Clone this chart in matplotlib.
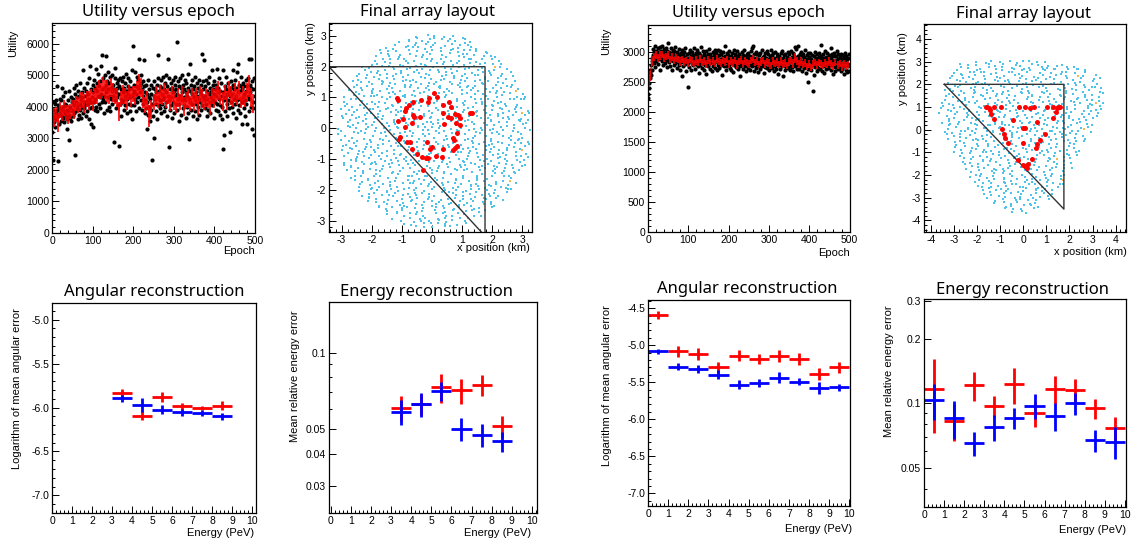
#!/usr/bin/env python3
"""
Array optimisation summary: utility history, final detector layouts and
angular / energy reconstruction quality for two optimisation runs.
"""

import numpy as np
import matplotlib
matplotlib.use('Agg')
import matplotlib.pyplot as plt
from matplotlib.ticker import (MultipleLocator, FixedLocator, FixedFormatter,
                               FormatStrFormatter, NullFormatter)

plt.rcParams['font.family'] = ['Liberation Sans', 'DejaVu Sans']
plt.rcParams['axes.unicode_minus'] = False

W, H = 1138, 545

# ---------------------------------------------------------------------------
# Run A: utility per epoch (one point per epoch) and running mean every 5 epochs
# ---------------------------------------------------------------------------
UTIL_A = [
    3200, 3650, 2300, 3900, 3500, 4150, 3700, 4100, 3350, 3800, 4200, 3600, 3900, 4650, 2280, 3700, 4050, 3450, 3950, 4250, 3800, 3550, 4200, 3900, 4600,
    3700, 4000, 3650, 4350, 3850, 3500, 4100, 3800, 4450, 3700, 4050, 3900, 3300, 3600, 4200, 3850, 4500, 3750, 2940, 4000, 3650, 4300, 3900, 3550, 4150,
    3900, 4250, 3700, 4600, 4050, 3800, 4400, 2480, 4150, 3850, 4700, 3950, 4300, 3600, 4500, 4050, 3750, 4350, 4100, 4750, 3900, 4200, 3650, 4450, 4000,
    4300, 5150, 3800, 4150, 4600, 3950, 4350, 4050, 3700, 4500, 4200, 3850, 4750, 4100, 4400, 3600, 4250, 4900, 3950, 5280, 4150, 3450, 4550, 4000, 4300,
    4700, 3350, 4450, 4150, 4850, 3900, 4600, 4250, 5200, 4000, 4500, 3850, 4750, 4350, 5050, 4100, 4650, 4300, 3950, 4800, 4400, 5300, 4150, 5650, 4550,
    4250, 4900, 3800, 4600, 4350, 5000, 4150, 4700, 5600, 4450, 3900, 4800, 4300, 5100, 4550, 4000, 4750, 4350, 4950, 3850, 4600, 4250, 5000, 4500, 4100,
    4700, 4350, 2890, 4550, 4900, 4200, 5240, 4450, 3950, 4750, 4300, 4600, 4050, 4850, 2760, 4400, 4650, 4100, 4900, 4250, 3700, 4550, 4800, 4150, 4450,
    4950, 4200, 4600, 3900, 4350, 4750, 4050, 4500, 5050, 4250, 3800, 4650, 4400, 4900, 4100, 4550, 3850, 4300, 4800, 4050, 4600, 4350, 5150, 3600, 5920,
    4400, 4700, 4050, 4500, 5100, 4250, 3850, 4650, 4400, 4950, 4150, 4600, 4850, 4300, 3950, 5500, 4700, 4450, 5000, 4200, 4750, 4550, 3900, 4800, 4350,
    4100, 4650, 5470, 3800, 4450, 4200, 4700, 3950, 4400, 3280, 4150, 4850, 3750, 4300, 4550, 4000, 3550, 4250, 4700, 3900, 4400, 2300, 4100, 4600, 3700,
    4350, 4800, 3020, 4250, 4550, 3850, 4450, 4100, 4700, 3600, 4300, 4900, 5630, 4050, 4500, 3950, 4650, 4200, 4850, 3800, 4400, 4100, 4600, 4950, 4250,
    3850, 4550, 4300, 4750, 4000, 4450, 5000, 4150, 3700, 4650, 4350, 5520, 2725, 4900, 4200, 4550, 3900, 4750, 4300, 4050, 4600, 3650, 4450, 4850, 4150,
    4500, 3800, 4350, 4700, 4950, 4100, 4550, 6050, 3900, 4400, 4800, 4250, 3550, 4650, 4100, 4900, 4350, 3750, 4600, 4200, 5000, 4450, 3950, 4700, 4300,
    4050, 4550, 4850, 4200, 3650, 4450, 4750, 4000, 4350, 5050, 3800, 4600, 4250, 2990, 4500, 5360, 4150, 4700, 3900, 4400, 4850, 4100, 4550, 3700, 4300,
    4650, 4200, 4950, 3850, 4450, 4100, 4750, 3600, 4350, 4600, 4000, 4850, 4250, 3750, 4500, 4150, 4700, 3900, 4400, 5680, 4050, 4550, 4300, 4800, 5470,
    4200, 3950, 4650, 4350, 4850, 4100, 3700, 4500, 4250, 4750, 3900, 4400, 4950, 4150, 4600, 3800, 4450, 4300, 5150, 4050, 4550, 4200, 4700, 3650, 4400,
    4800, 4150, 4550, 3900, 4350, 4700, 4100, 5185, 4450, 3850, 4600, 4250, 4900, 4050, 3750, 4500, 4350, 4750, 4000, 3600, 2650, 5150, 4450, 4200, 3090,
    4650, 4300, 3850, 4550, 4950, 4100, 4400, 3700, 4750, 4200, 4500, 4500, 3950, 4350, 3200, 4800, 4150, 4600, 4000, 4400, 4700, 3800, 5150, 4250, 4550,
    4100, 4850, 4350, 3650, 4600, 5100, 4200, 5340, 4450, 3900, 4700, 4050, 4500, 4250, 3800, 4650, 4950, 4150, 3450, 4550, 4300, 4750, 3950, 4400, 4650,
    4200, 3700, 4500, 4850, 4100, 3450, 4650, 4350, 4900, 5520, 4250, 3850, 4700, 4450, 5500, 4000, 4600, 3300, 4800, 4150, 4550, 3950, 3090, 4900, 4350,
]
MEAN_A = [
    3100, 3650, 3750, 3500, 3900, 3800, 3950, 3800, 3750, 3850, 3950, 3900, 4100, 4050, 4150, 4200, 4100, 4250, 4200, 4300,
    4150, 4350, 4400, 4550, 4500, 4650, 4550, 4500, 4400, 4600, 4450, 4350, 4300, 3850, 4250, 4400, 4350, 4200, 4450, 4300,
    4400, 4350, 4550, 4700, 4600, 4250, 4050, 4200, 3700, 3900, 4150, 4350, 4200, 4400, 4300, 4450, 4250, 4350, 4150, 4400,
    4200, 4050, 4300, 4150, 4350, 4000, 4200, 4250, 4100, 4300, 4150, 4350, 4050, 4400, 4250, 4150, 4300, 4200, 4050, 4350,
    4250, 4400, 4500, 4300, 4150, 4450, 4200, 4550, 4350, 4250, 4450, 4300, 4500, 4200, 4350, 4250, 4450, 4650, 4300, 4100,
]
MEAN_A_ERR = [
    350, 300, 250, 300, 250, 250, 250, 250, 300, 250, 250, 300, 250, 250, 300, 250, 300, 250, 300, 250,
    300, 250, 300, 300, 250, 300, 300, 350, 300, 300, 300, 250, 300, 300, 250, 300, 250, 300, 250, 300,
    250, 300, 250, 350, 300, 300, 250, 300, 350, 300, 250, 300, 250, 300, 250, 300, 300, 250, 300, 250,
    300, 250, 300, 250, 300, 300, 250, 300, 250, 300, 300, 250, 300, 250, 300, 250, 300, 250, 300, 250,
    300, 250, 300, 250, 300, 250, 300, 250, 300, 250, 300, 250, 300, 250, 300, 250, 300, 350, 300, 300,
]

# ---------------------------------------------------------------------------
# Run B: utility per epoch and running mean every 5 epochs
# ---------------------------------------------------------------------------
UTIL_B = [
    2230, 2300, 2400, 2480, 2560, 2650, 2700, 2620, 2780, 2850, 2700, 2900, 2950, 3050, 2820, 3000, 2880, 3100, 2750, 2950, 3020, 2850, 2980, 2900, 3060,
    2800, 2950, 3000, 2880, 3080, 2920, 2700, 3020, 2960, 2850, 3100, 2900, 3000, 2780, 2950, 3050, 2880, 2990, 2820, 3070, 2930, 2860, 3010, 2750, 2970,
    3150, 2900, 2830, 3000, 2950, 2760, 3060, 2880, 2990, 2700, 2920, 3040, 2850, 2960, 2780, 3020, 2900, 2820, 3080, 2870, 2950, 2740, 3000, 2890, 2830,
    2960, 2790, 3050, 2870, 2930, 2700, 2990, 2840, 2910, 3030, 2600, 2880, 2950, 2760, 3000, 2850, 2920, 2800, 3070, 2880, 2690, 2960, 2840, 2410, 2900,
    2820, 2980, 2750, 2900, 3030, 2860, 2700, 2940, 2810, 3000, 2870, 2780, 2950, 2840, 3060, 2900, 2720, 2880, 2990, 2800, 2930, 2850, 3040, 2760, 2910,
    2870, 2990, 2650, 2830, 2950, 2780, 3080, 2860, 2920, 2740, 2890, 3010, 2810, 2960, 2700, 2850, 2940, 2780, 3020, 2880, 2640, 2900, 2830, 2970, 2760,
    2930, 2800, 3050, 2870, 2720, 2960, 2840, 2910, 2680, 2890, 3000, 2770, 2860, 2950, 2810, 3030, 2740, 2900, 2850, 2990, 2700, 2880, 2940, 2790, 3040,
    2820, 2950, 2730, 2890, 3010, 2850, 2780, 2960, 2880, 2620, 2920, 2810, 3000, 2870, 2760, 2940, 3100, 2840, 2700, 2910, 2830, 2980, 2770, 2890, 2950,
    2790, 2880, 3020, 2740, 2860, 2930, 2700, 2850, 2990, 2810, 2900, 2660, 2870, 3040, 2780, 2920, 2830, 2960, 2750, 2890, 2800, 3010, 2860, 2720, 2940,
    2830, 2970, 2760, 2880, 2600, 2910, 2820, 3000, 2780, 2860, 2950, 2710, 2900, 2840, 3030, 2770, 2880, 2690, 2930, 2810, 2960, 2850, 2740, 2900, 2990,
    2780, 2870, 2940, 2700, 2850, 3020, 2800, 2910, 2760, 3060, 3100, 2830, 2680, 2890, 2960, 2790, 2870, 3000, 2740, 2900, 2820, 2970, 2660, 2880, 2810,
    2950, 2770, 2860, 2990, 2720, 2890, 2830, 3030, 2760, 2920, 2800, 2870, 2650, 2940, 2840, 2980, 2750, 2900, 2810, 2870, 3010, 2730, 2850, 2960, 2790,
    2880, 2700, 2930, 2820, 3040, 2770, 2860, 2950, 2740, 2890, 2810, 2980, 2680, 2900, 2830, 2760, 3000, 2850, 2720, 2920, 2800, 2960, 2870, 2640, 2910,
    2790, 2940, 2850, 2710, 2990, 2820, 2880, 2760, 3020, 2840, 2600, 2900, 2780, 2950, 2830, 2700, 2970, 2860, 2750, 2910, 2810, 3000, 2730, 2880, 2840,
    2960, 2770, 2890, 2700, 3010, 2830, 2920, 2750, 2870, 2980, 2690, 2850, 2940, 2800, 3080, 2760, 2900, 2830, 3050, 2720, 2880, 3100, 2790, 2940, 2850,
    2710, 2970, 2820, 2880, 2760, 3000, 2840, 2690, 2930, 2800, 2960, 2870, 2740, 2910, 2820, 3040, 2780, 2890, 2650, 2950, 2830, 2720, 2980, 2500, 2860,
    2920, 2760, 2850, 2990, 2700, 2880, 2810, 2950, 2350, 2840, 2780, 2930, 2620, 2870, 3000, 2750, 2900, 2820, 2680, 2960, 2790, 2870, 2740, 2910, 2830,
    2980, 2720, 2860, 3110, 2800, 2940, 2690, 2880, 2830, 2970, 2760, 2900, 2650, 2850, 3020, 2780, 2920, 2710, 2870, 2990, 2800, 2840, 2730, 2950, 2860,
    2770, 2910, 2820, 3070, 2700, 2880, 2960, 2790, 2850, 2640, 2930, 2810, 2990, 2750, 2870, 2690, 2940, 2830, 3010, 2760, 2890, 2720, 2960, 2800, 2850,
    2740, 2920, 2830, 2680, 2970, 2790, 2880, 2710, 2950, 2820, 2630, 2900, 2770, 2860, 2990, 2700, 2840, 2930, 2660, 2880, 2800, 2760, 2900, 2690, 2960,
]
MEAN_B = [
    2300, 2600, 2850, 2920, 2950, 2900, 2940, 2960, 2900, 2930, 2950, 2880, 2920, 2860, 2900, 2870, 2840, 2880, 2830, 2860,
    2820, 2870, 2840, 2810, 2860, 2830, 2880, 2820, 2850, 2800, 2870, 2830, 2850, 2810, 2880, 2840, 2820, 2860, 2830, 2870,
    2800, 2850, 2820, 2860, 2790, 2840, 2870, 2810, 2850, 2830, 2800, 2860, 2880, 2820, 2850, 2790, 2830, 2860, 2800, 2840,
    2820, 2780, 2850, 2810, 2830, 2790, 2840, 2800, 2820, 2780, 2830, 2860, 2810, 2900, 2850, 2800, 2840, 2790, 2820, 2760,
    2800, 2740, 2790, 2820, 2780, 2830, 2800, 2770, 2820, 2790, 2840, 2800, 2770, 2820, 2780, 2810, 2760, 2800, 2770, 2790,
]
MEAN_B_ERR = [
    90, 90, 80, 70, 70, 60, 70, 60, 70, 60, 70, 60, 70, 60, 70, 60, 70, 60, 70, 60,
    70, 60, 70, 60, 70, 60, 70, 60, 70, 60, 70, 60, 70, 60, 70, 60, 70, 60, 70, 60,
    70, 60, 70, 60, 70, 60, 70, 60, 70, 60, 70, 60, 70, 60, 70, 60, 70, 60, 70, 60,
    70, 60, 70, 60, 70, 60, 70, 60, 70, 60, 70, 60, 70, 80, 70, 60, 70, 60, 70, 60,
    70, 60, 70, 60, 70, 60, 70, 60, 70, 60, 70, 60, 70, 60, 70, 60, 70, 60, 70, 60,
]
MEAN_STEP = 5

# ---------------------------------------------------------------------------
# Final layouts: selected stations (km) and candidate positions
# ---------------------------------------------------------------------------
SEL_A_X = [-1.15, -1.12, -0.75, -0.86, -0.89, -0.62, -0.35, -0.09, 0.07, 0.15, -0.12, 0.38, 0.58, 0.62,
           0.38, 0.54, 0.62, 0.76, 0.87, 0.93, 0.80, 0.93, 0.40, 0.84, 1.26, 1.34, -0.62, -0.60, -0.40,
           -0.66, -0.97, -1.12, -0.91, -1.06, -1.10, -0.84, -0.73, -0.66, -0.18, -0.01, -0.07, 0.35,
           0.71, 0.73, 0.76, 0.82, 0.71, -0.49, -0.34, -0.20, -0.12, 0.13, 0.32, -0.29]
SEL_A_Y = [0.99, 0.92, 0.74, 0.65, 0.56, 0.86, 0.92, 0.97, 1.13, 1.02, 0.86, 0.76, 0.86, 0.70,
           0.49, 0.36, 0.32, 0.46, 0.43, 0.32, 0.16, 0.11, 0.14, -0.14, 0.51, 0.49, 0.43, 0.38, 0.36,
           0.18, 0.29, 0.22, 0.05, -0.29, -0.36, -0.45, -0.45, -0.67, -0.43, -0.61, -0.67, -0.68,
           -0.32, -0.38, -0.65, -0.59, -0.70, -0.83, -0.94, -0.97, -0.97, -0.90, -0.94, -1.35]
SEL_B_X = [-1.56, -1.49, -1.42, -1.63, -1.26, -0.95, -1.39, -1.27, -0.46, -0.19, 0.07, 0.29, 0.48, 1.04,
           1.30, 1.52, 1.59, 1.47, 1.42, 1.29, 0.58, 0.00, 0.07, -0.94, -0.85, -0.77, -0.68, -0.03,
           0.94, 0.72, 0.61, 0.53, 0.36, -0.22, 0.19, -0.03, 0.07, 0.14]
SEL_B_Y = [0.98, 0.95, 0.87, 0.98, 0.98, 0.98, 0.68, 0.48, 0.43, 0.99, 0.98, 0.95, 0.98, 0.99,
           0.99, 0.99, 1.02, 0.95, 0.77, 0.51, 0.33, 0.08, 0.08, 0.02, -0.19, -0.38, -0.57, -0.57,
           -0.21, -0.45, -0.63, -0.80, -1.29, -1.33, -1.52, -1.54, -1.62, -1.70]

# boundary of the allowed region (km)
BOUND_X = [-3.42, 1.76, 1.76, -3.42]
BOUND_Y = [2.0, 2.0, -3.5, 2.0]

# candidate positions, row by row from the top: (first column, row mask).
# digit = candidate, its value gives the spot inside the cell (keypad order 1..9),
# 'o' = flagged candidate
GRID_A_STEP = 0.1
GRID_A_ORIGIN = (-3.3, 3.0)
GRID_A = [
    (28, "7   1 4  8" "  5"),
    (24, " 9  2   6 " "1 6  5   3" "5"),
    (22, "5  3  7 1 " "4 8   3  1" "  8 4"),
    (20, " 4   8 6  " " 2 6   9  " "1 6  5   "),
    (18, "4 8   3  1" "3  7 1  5 " "  8 4   2 " "7  "),
    (16, "1 6  5   3" "  5  9 2  " "5  3  7 1 " "1 4  8 "),
    (15, " 2 6   9  " " 4   8 6  " " 9  2   6 " "4 8   3  "),
    (14, "3  7 1  5 " "7   1 4  8" "  8 4   2 " "4 8   3  1" "5"),
    (12, "  5  9 2  " "1 6  5   3" " 4   8 6  " "5  3  7 1 " " 2 6 "),
    (11, "  8 4   2 " " 9  2   6 " "7   1 4  8" "3  7 1  5 " "1 6  5 "),
    (10, "4 8   3  1" "5  3  7 1 " " 2 6   9  " "  5  9 2  " "7   o 4  "),
    (10, " 4   8 6  " "3  7 1  5 " "1 6  5   3" " 9  2   6 " "  8 4   2"),
    (9, "7   1 4  8" "  8 4   2 " "4 8   3  1" " 4   8 6  " " 2 6   9  " "3"),
    (8, "5  3  7 1 " "  5  9 2  " " 9  2   6 " "1 6  5   3" "3  7 1  5 " "  5"),
    (7, " 9  2   6 " " 2 6   9  " "7   1 4  8" "5  3  7 1 " "  8 4   2 " " 4   "),
    (7, "1 6  5   3" "4 8   3  1" " 4   8 6  " "  5  9 2  " "3  7 1  5 " "7   1"),
    (6, "  5  9 2  " "3  7 1  5 " "5  3  7 1 " "7   1 4  8" " 9  2   6 " "  8 4  "),
    (6, " 2 6   9  " "  8 4   2 " "1 6  5   3" "4 8   3  1" " 4   8 6  " "5  3  7"),
    (5, "3  7 1  5 " " 4   8 6  " "  5  9 2  " "  8 4   2 " " 2 6   9  " "4 8   o  "),
    (5, "  8 4   2 " "7   1 4  8" " 9  2   6 " "3  7 1  5 " "1 6  5   3" " 9  2   6"),
    (4, "4 8   3  1" "1 6  5   3" "5  3  7 1 " " 2 6   9  " "  5  9 2  " " 4   8 6  " "5"),
    (4, "7   1 4  8" " 9  2   6 " "  8 4   2 " " 4   8 6  " "5  3  7 1 " "4 8   3  1" "1"),
    (4, " 4   8 6  " "5  3  7 1 " "3  7 1  5 " "1 6  5   3" "7   1 4  8" " 2 6   9  " " "),
    (3, " 2 6   9  " "  5  9 2  " "4 8   3  1" " 9  2   6 " "  8 4   2 " "3  7 1  5 " "7  "),
    (3, "1 6  5   3" "3  7 1  5 " "7   1 4  8" "  5  9 2  " " 4   8 6  " "5  3  7 1 " "  8"),
    (3, " 9  2   6 " "4 8   3  1" " 2 6   9  " "5  3  7 1 " "3  7 1  5 " "  8 4   2 " "o 6"),
    (3, "5  3  7 1 " "  8 4   2 " " 4   8 6  " "7   1 4  8" "1 6  5   3" "  5  9 2  " " 2 "),
    (3, "3  7 1  5 " " 2 6   9  " "1 6  5   3" "  8 4   2 " "4 8   3  1" "7   1 4  8" "4 8"),
    (3, "  5  9 2  " " 4   8 6  " " 9  2   6 " "4 8   3  1" " 2 6   9  " "1 6  5   3" " 9 "),
    (3, "  8 4   2 " "5  3  7 1 " "  5  9 2  " "3  7 1  5 " " 9  2   6 " " 4   8 6  " "3  "),
    (2, "7   1 4  8" "1 6  5   3" "4 8   3  1" " 2 6   9  " " 4   8 6  " " 9  2   6 " "  5  "),
    (2, " 4   8 6  " "  5  9 2  " "  8 4   2 " "1 6  5   3" "5  3  7 1 " "3  7 1  5 " "7   1"),
    (2, "4 8   3  1" " 9  2   6 " "3  7 1  5 " "5  3  7 1 " "  5  9 2  " " 2 6   9  " " 4   "),
    (3, " 2 6   9  " "3  7 1  5 " "5  3  7 1 " " 4   8 6  " "  8 4   2 " "7   1 4  8" "5  "),
    (3, "1 6  5   3" "7   1 4  8" " 4   8 6  " " 9  2   6 " " 2 6   9  " "4 8   3  1" "  8"),
    (3, " 9  2   6 " "  8 4   2 " " 2 6   9  " "  5  9 2  " "7   1 4  8" "5  3  7 1 " "1 6"),
    (3, "3  7 1  5 " "4 8   3  1" "1 6  5   3" "7   1 4  8" "  8 4   2 " " 4   8 6  " " 2 "),
    (3, "5  3  7 1 " " 4   8 6  " "  5  9 2  " " 2 6   9  " "3  7 1  5 " "1 6  5   3" "o  "),
    (3, "  5  9 2  " " 2 6   9  " "7   1 4  8" "4 8   3  1" "1 6  5   3" "  8 4   2 " " 9 "),
    (3, " 4   8 6  " "1 6  5   3" " 9  2   6 " "  8 4   2 " "  5  9 2  " "3  7 1  5 " "4 8"),
    (4, "  8 4   2 " "  5  9 2  " "4 8   3  1" "3  7 1  5 " " 4   8 6  " " 2 6   9  " "7"),
    (4, "7   1 4  8" "5  3  7 1 " "3  7 1  5 " "1 6  5   3" "4 8   3  1" " 9  2   6 " " "),
    (4, "4 8   3  1" "3  7 1  5 " " 2 6   9  " " 9  2   6 " "5  3  7 1 " "7   1 4  8" "5"),
    (5, " 2 6   9  " " 9  2   6 " " 4   8 6  " "5  3  7 1 " "7   1 4  8" "1 6  5   "),
    (5, "1 6  5   3" " 4   8 6  " "  8 4   2 " "4 8   3  1" " 9  2   6 " "  5  9 2 "),
    (6, " 9  2   6 " "7   1 4  8" "  5  9 2  " " 2 6   9  " "  8 4   2 " "3  7 1 "),
    (6, "5  3  7 1 " "1 6  5   3" "3  7 1  5 " " 4   8 6  " "  5  9 2  " " 2 6   "),
    (7, "3  7 1  5 " "  8 4   2 " "5  3  7 1 " " 9  2   6 " " 2 6   9  " "4 o  "),
    (7, "  5  9 2  " "4 8   3  1" "1 6  5   3" "7   1 4  8" " 4   8 6  " " 9  2"),
    (8, " 4   8 6  " " 2 6   9  " "7   1 4  8" "  8 4   2 " "3  7 1  5 " "7  "),
    (9, "7   1 4  8" "3  7 1  5 " " 9  2   6 " "  5  9 2  " "1 6  5   3" "3"),
    (10, "  8 4   2 " " 4   8 6  " "4 8   3  1" "5  3  7 1 " "  8 4   2"),
    (10, "4 8   3  1" "5  3  7 1 " "  8 4   2 " " 2 6   9  " "1 6  5   "),
    (11, " 2 6   9  " "  5  9 2  " " 4   8 6  " "1 6  5   3" "5  3  7"),
    (12, "1 6  5   3" " 9  2   6 " " 2 6   9  " "3  7 1  5 " " 4   "),
    (14, " 9  2   6 " "7   1 4  8" "3  7 1  5 " "4 8   3  1" "7"),
    (15, "3  7 1  5 " "1 6  5   3" "  5  9 2  " "  8 4   2"),
    (16, "  5  9 2  " "  8 4   2 " " 9  2   6 " "3  7 1 "),
    (18, "5  3  7 1 " "4 8   3  1" "7   1 4  8" " 9 "),
    (20, "7   1 4  8" " 4   8 6  " "1 6  5   "),
    (22, " 4   8 6  " "5  3  7 1 " "  5  "),
    (24, "4 8   3  1" " 2 6   9  " "3"),
    (28, "1 6  5   3" " 2 "),
]
GRID_B_STEP = 0.13
GRID_B_ORIGIN = (-3.6, 3.0)
GRID_B = [
    (10, "  5  9 2  " "5  3  7 1 " "1 6  5"),
    (7, "1 6  5   3" " 9  2   6 " "7   1 4  8" "  8 4 "),
    (6, " 2 6   9  " "3  7 1  5 " "  8 4   2 " "4 8   3  1" "7"),
    (5, " 4   8 6  " "7   1 4  8" "1 6  5   3" "5  3  7 1 " " 2 6"),
    (5, "4 8   3  1" "  8 4   2 " " 9  2   6 " "  5  9 2  " "5  3  "),
    (4, "5  3  7 1 " " 4   8 6  " " 2 6   9  " "3  7 1  5 " "  o 4   2"),
    (3, "3  7 1  5 " "  5  9 2  " "7   1 4  8" "1 6  5   3" " 9  2   6 " "3"),
    (3, "7   1 4  8" "4 8   3  1" "5  3  7 1 " " 4   8 6  " "  8 4   2 " " "),
    (3, "  8 4   2 " " 2 6   9  " "3  7 1  5 " " 9  2   6 " "1 6  5   3" "  "),
    (2, " 9  2   6 " "1 6  5   3" "  5  9 2  " " 2 6   9  " "4 8   3  1" "1 4"),
    (2, "1 6  5   3" "7   1 4  8" " 4   8 6  " "  8 4   2 " "5  3  7 1 " " 9 "),
    (1, "  5  9 2  " "3  7 1  5 " "4 8   3  1" "7   1 4  8" " 2 6   9  " "7  3"),
    (1, " 2 6   9  " "5  3  7 1 " " 9  2   6 " "1 6  5   3" " 4   8 6  " "  5 "),
    (1, " 4   8 6  " " 9  2   6 " "  8 4   2 " "  5  9 2  " "3  7 1  5 " "4 8 "),
    (1, "4 8   3  1" " 4   8 6  " "1 6  5   3" "5  3  7 1 " "7   1 4  8" " o 6"),
    (1, "5  3  7 1 " "  8 4   2 " " 2 6   9  " "4 8   3  1" " 9  2   6 " "1 6 "),
    (0, "3  7 1  5 " "7   1 4  8" "  5  9 2  " " 4   8 6  " "1 6  5   3" "  8 4"),
    (0, "7   1 4  8" "1 6  5   3" "5  3  7 1 " "3  7 1  5 " "  8 4   2 " "3  7"),
    (1, " 9  2   6 " "  5  9 2  " " 4   8 6  " " 2 6   9  " "4 8   3  1" " 9 "),
    (1, "  8 4   2 " "4 8   3  1" "3  7 1  5 " "1 6  5   3" "  5  9 2  " "5 "),
    (1, "  5  9 2  " " 2 6   9  " "7   1 4  8" " 9  2   6 " "5  3  7 1 " "  "),
    (1, "1 6  5   3" " 4   8 6  " "4 8   3  1" "  8 4   2 " "3  7 1  5 " "7"),
    (2, " 2 6   9  " "3  7 1  5 " "1 6  5   3" "7   1 4  8" " 4   8 6  "),
    (2, " 4   8 6  " "5  3  7 1 " " 9  2   6 " "  5  9 2  " "4 8   o  "),
    (2, "4 8   3  1" "7   1 4  8" "  8 4   2 " "3  7 1  5 " " 9  2   6"),
    (2, "3  7 1  5 " "  8 4   2 " "  5  9 2  " "4 8   3  1" "5  3  7 "),
    (3, "7   1 4  8" " 9  2   6 " " 2 6   9  " "5  3  7 1 " "  5  9 "),
    (3, "  8 4   2 " "1 6  5   3" " 4   8 6  " " 9  2   6 " "1 6  5"),
    (4, " 9  2   6 " "  5  9 2  " "5  3  7 1 " "1 6  5   3" " 4   "),
    (5, "5  3  7 1 " " 2 6   9  " "3  7 1  5 " "  8 4   2 " "7  "),
    (5, "  5  9 2  " "4 8   3  1" "7   1 4  8" " 4   8 6  " " 9 "),
    (5, "1 6  5   3" "3  7 1  5 " " 9  2   6 " " 2 6   9  " "3 "),
    (6, " 4   8 6  " "7   1 4  8" "4 8   3  1" "  5  9 2  " "1"),
    (7, " 2 6   9  " "5  3  7 1 " "1 6  5   3" "4 o   3  "),
    (8, "4 8   3  1" " 4   8 6  " "  8 4   2 " "5  3  7 "),
    (8, "3  7 1  5 " "  5  9 2  " " 2 6   9  " " 2 6   "),
    (9, "7   1 4  8" "  8 4   2 " " 9  2   6 " "1 6  5"),
    (9, " 9  2   6 " "1 6  5   3" "5  3  7 1 " "  5  "),
    (10, "  8 4   2 " " 2 6   9  " " 4   8 6  " " 9 "),
    (10, "5  3  7 1 " " 9  2   6 " "  5  9 2  " "3  "),
    (11, "  5  9 2  " "3  7 1  5 " "1 6  5   3" "o"),
    (12, "1 6  5   3" "4 8   3  1" "7   1 4  8"),
    (12, " 4   8 6  " "5  3  7 1 " "  8 4   2"),
    (13, " 2 6   9  " "7   1 4  8" "4 8   3"),
    (14, "3  7 1  5 " "  8 4   2 " "5  3 "),
    (15, "4 8   3  1" "  5  9 2  " "1 6"),
    (16, "7   1 4  8" " 4   8 6  " "2"),
    (17, " 9  2   6 " "1 6  5   3"),
    (18, "5  3  7 1 " "  8 4   "),
    (20, "  8 4   2 " "3  7"),
    (22, "1 6  5   3"),
    (24, "5  3 7"),
]

# ---------------------------------------------------------------------------
# Reconstruction quality per 1 PeV energy bin (red / blue reconstructions)
# ---------------------------------------------------------------------------
E_BIN_HALF = 0.5
E_A = [3.5, 4.5, 5.5, 6.5, 7.5, 8.5]
ANG_A_RED = [-5.835, -6.093, -5.877, -5.987, -6.006, -5.980]
ANG_A_RED_ERR = [0.05, 0.05, 0.057, 0.04, 0.02, 0.05]
ANG_A_BLUE = [-5.892, -5.968, -6.025, -6.051, -6.063, -6.100]
ANG_A_BLUE_ERR = [0.04, 0.08, 0.05, 0.04, 0.03, 0.04]
EN_A_RED = [0.0604, 0.0627, 0.0731, 0.0710, 0.0746, 0.0512]
EN_A_RED_ERR = [0.0068, 0.006, 0.0096, 0.008, 0.0072, 0.005]
EN_A_BLUE = [0.0586, 0.0627, 0.0703, 0.0501, 0.0475, 0.0448]
EN_A_BLUE_ERR = [0.0067, 0.0068, 0.006, 0.0052, 0.0048, 0.004]

E_B = [0.5, 1.5, 2.5, 3.5, 4.5, 5.5, 6.5, 7.5, 8.5, 9.5]
ANG_B_RED = [-4.59, -5.085, -5.12, -5.30, -5.14, -5.19, -5.14, -5.19, -5.387, -5.30]
ANG_B_RED_ERR = [0.05, 0.08, 0.08, 0.07, 0.07, 0.07, 0.08, 0.08, 0.08, 0.08]
ANG_B_BLUE = [-5.085, -5.29, -5.32, -5.40, -5.536, -5.51, -5.437, -5.49, -5.58, -5.57]
ANG_B_BLUE_ERR = [0.04, 0.05, 0.05, 0.06, 0.06, 0.06, 0.07, 0.05, 0.08, 0.05]
EN_B_RED = [0.1167, 0.0829, 0.122, 0.0975, 0.1227, 0.0898, 0.1167, 0.1155, 0.0948, 0.0764]
EN_B_RED_ERR = [0.044, 0.016, 0.019, 0.011, 0.023, 0.012, 0.017, 0.014, 0.010, 0.010]
EN_B_BLUE = [0.1036, 0.0851, 0.0650, 0.0773, 0.0857, 0.0972, 0.0876, 0.1000, 0.0674, 0.0662]
EN_B_BLUE_ERR = [0.020, 0.017, 0.0085, 0.0108, 0.010, 0.013, 0.013, 0.012, 0.008, 0.011]

CYAN = '#4cc4ea'
ORANGE = '#f2b84b'

fig = plt.figure(figsize=(W / 100, H / 100), dpi=100)


def panel(left, right, top, bottom):
    """Axes placed by pixel edges of the frame."""
    ax = fig.add_axes([left / W, 1 - bottom / H, (right - left) / W, (bottom - top) / H])
    ax.tick_params(which='both', direction='in', top=False, right=False,
                   labelsize=7.5, pad=2, width=0.7)
    ax.tick_params(which='major', length=5)
    ax.tick_params(which='minor', length=2.5)
    for s in ax.spines.values():
        s.set_linewidth(0.9)
    return ax


def labels(title, tx, ty, xlab, xr, xy, ylab, yx, yt):
    """Title and axis titles placed in pixel coordinates"""
    fig.text(tx / W, 1 - ty / H, title, ha='center', va='center',
             fontsize=12, family=['Noto Sans', 'DejaVu Sans'])
    fig.text(xr / W, 1 - xy / H, xlab, ha='right', va='center', fontsize=8)
    fig.text(yx / W, 1 - yt / H, ylab, ha='center', va='top', rotation=90, fontsize=8)


def utility_panel(ax, values, means, errs, ylim, ymajor, yminor, xmax):
    epochs = np.arange(len(values))
    ax.plot(epochs, values, 'o', color='black', ms=3, mew=0)
    mean_epochs = np.arange(len(means)) * MEAN_STEP
    ax.errorbar(mean_epochs, means, yerr=errs, fmt='-', color='red', lw=0.6,
                elinewidth=1.2, capsize=0)
    ax.set_xlim(0, xmax)
    ax.set_ylim(*ylim)
    ax.xaxis.set_major_locator(MultipleLocator(100))
    ax.xaxis.set_minor_locator(MultipleLocator(20))
    ax.yaxis.set_major_locator(MultipleLocator(ymajor))
    ax.yaxis.set_minor_locator(MultipleLocator(yminor))


def grid_points(grid, origin, step):
    """Unpack the row masks into candidate coordinates"""
    x0, y0 = origin
    shift = 0.35 * step
    cyan_x, cyan_y, flag_x, flag_y = [], [], [], []
    for r, (first, mask) in enumerate(grid):
        for c, ch in enumerate(mask):
            x = x0 + (first + c) * step
            y = y0 - r * step
            if ch.isdigit():
                k = int(ch) - 1
                cyan_x.append(x + (k % 3 - 1) * shift)
                cyan_y.append(y + (1 - k // 3) * shift)
            elif ch == 'o':
                flag_x.append(x)
                flag_y.append(y)
    return cyan_x, cyan_y, flag_x, flag_y


def layout_panel(ax, grid, origin, step, sel_x, sel_y, xlim, ylim):
    cx, cy, ox, oy = grid_points(grid, origin, step)
    ax.plot(cx, cy, 's', color=CYAN, ms=1.5, mew=0)
    ax.plot(ox, oy, 's', color=ORANGE, ms=1.5, mew=0)
    ax.plot(BOUND_X, BOUND_Y, color='#333333', lw=1.0)
    ax.plot(sel_x, sel_y, 'o', color='red', ms=3.6, mew=0)
    ax.set_xlim(*xlim)
    ax.set_ylim(*ylim)
    ax.xaxis.set_major_locator(MultipleLocator(1))
    ax.xaxis.set_minor_locator(MultipleLocator(0.2))
    ax.yaxis.set_major_locator(MultipleLocator(1))
    ax.yaxis.set_minor_locator(MultipleLocator(0.2))


def reco_points(ax, centres, red, red_err, blue, blue_err, xlim):
    ax.errorbar(centres, red, xerr=E_BIN_HALF, yerr=red_err, fmt='none',
                ecolor='red', elinewidth=2.0, capsize=0)
    ax.errorbar(centres, blue, xerr=E_BIN_HALF, yerr=blue_err, fmt='none',
                ecolor='blue', elinewidth=2.0, capsize=0)
    ax.set_xlim(*xlim)
    ax.xaxis.set_major_locator(MultipleLocator(1))
    ax.xaxis.set_minor_locator(MultipleLocator(0.2))


def log_axis(ax, ylim, major, major_labels, minor):
    ax.set_yscale('log')
    ax.set_ylim(*ylim)
    ax.yaxis.set_major_locator(FixedLocator(major))
    ax.yaxis.set_major_formatter(FixedFormatter(major_labels))
    ax.yaxis.set_minor_locator(FixedLocator(minor))
    ax.yaxis.set_minor_formatter(NullFormatter())


# --- top row: utility and layouts ---
ax1 = panel(52, 255, 23, 233)
utility_panel(ax1, UTIL_A, MEAN_A, MEAN_A_ERR, (0, 6650), 1000, 200, 500)
labels('Utility versus epoch', 159, 12, 'Epoch', 255, 251, 'Utility', 13, 30)

ax2 = panel(329, 532, 23, 232)
layout_panel(ax2, GRID_A, GRID_A_ORIGIN, GRID_A_STEP, SEL_A_X, SEL_A_Y,
             (-3.42, 3.32), (-3.37, 3.42))
labels('Final array layout', 427, 12, 'x position (km)', 530, 248, 'y position (km)', 311, 22)

ax3 = panel(648, 850, 25, 232)
utility_panel(ax3, UTIL_B, MEAN_B, MEAN_B_ERR, (0, 3450), 500, 100, 501)
labels('Utility versus epoch', 748, 13, 'Epoch', 850, 253, 'Utility', 606, 28)

ax4 = panel(924, 1126, 24, 232)
layout_panel(ax4, GRID_B, GRID_B_ORIGIN, GRID_B_STEP, SEL_B_X, SEL_B_Y,
             (-4.3, 4.45), (-4.51, 4.66))
labels('Final array layout', 1023, 14, 'x position (km)', 1127, 252, 'y position (km)', 903, 32)

# --- bottom row: reconstruction quality ---
ax5 = panel(52, 256, 303, 513)
reco_points(ax5, E_A, ANG_A_RED, ANG_A_RED_ERR, ANG_A_BLUE, ANG_A_BLUE_ERR, (0, 10.2))
ax5.set_ylim(-7.2, -4.81)
ax5.yaxis.set_major_locator(MultipleLocator(0.5))
ax5.yaxis.set_minor_locator(MultipleLocator(0.1))
ax5.yaxis.set_major_formatter(FormatStrFormatter('%.1f'))
labels('Angular reconstruction', 154, 292, 'Energy (PeV)', 254, 533,
       'Logarithm of mean angular error', 17, 308)

ax6 = panel(329, 537, 302, 513)
reco_points(ax6, E_A, EN_A_RED, EN_A_RED_ERR, EN_A_BLUE, EN_A_BLUE_ERR, (-0.08, 10.25))
log_axis(ax6, (0.0234, 0.158), [0.03, 0.04, 0.05, 0.1], ['0.03', '0.04', '0.05', '0.1'],
         [0.06, 0.07, 0.08, 0.09])
labels('Energy reconstruction', 427, 292, 'Energy (PeV)', 531, 533,
       'Mean relative energy error', 295, 310)

ax7 = panel(648, 850, 300, 506)
reco_points(ax7, E_B, ANG_B_RED, ANG_B_RED_ERR, ANG_B_BLUE, ANG_B_BLUE_ERR, (0, 10.03))
ax7.set_ylim(-7.17, -4.39)
ax7.yaxis.set_major_locator(MultipleLocator(0.5))
ax7.yaxis.set_minor_locator(MultipleLocator(0.1))
ax7.yaxis.set_major_formatter(FormatStrFormatter('%.1f'))
labels('Angular reconstruction', 747, 289, 'Energy (PeV)', 852, 529,
       'Logarithm of mean angular error', 607, 305)

ax8 = panel(924, 1126, 299, 507)
reco_points(ax8, E_B, EN_B_RED, EN_B_RED_ERR, EN_B_BLUE, EN_B_BLUE_ERR, (0, 10.05))
log_axis(ax8, (0.0328, 0.3077), [0.05, 0.1, 0.2, 0.3], ['0.05', '0.1', '0.2', '0.3'],
         [0.04, 0.06, 0.07, 0.08, 0.09])
labels('Energy reconstruction', 1022, 290, 'Energy (PeV)', 1126, 530,
       'Mean relative energy error', 889, 305)

fig.savefig('out.png', dpi=100)
